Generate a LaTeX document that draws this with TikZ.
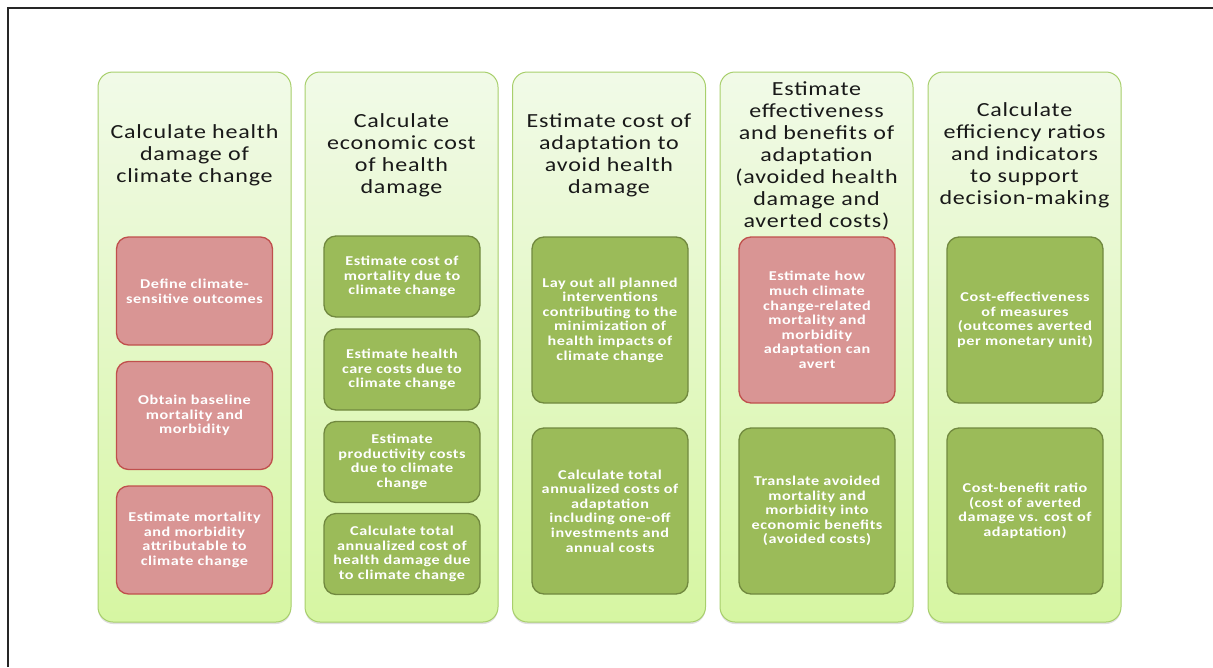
\documentclass[tikz,border=0pt]{standalone}
\usepackage{fontspec}
\setmainfont[FakeStretch=1.2, LetterSpace=4]{Carlito}
\usepackage{tikz}
\usetikzlibrary{shadows}
\definecolor{panelTop}{HTML}{F1FAE8}
\definecolor{panelBot}{HTML}{D6F6A2}
\definecolor{panelLine}{HTML}{A8CF6C}
\definecolor{redFill}{HTML}{D99594}
\definecolor{redLine}{HTML}{C0504D}
\definecolor{greenFill}{HTML}{9BBB59}
\definecolor{greenLine}{HTML}{71893F}
\tikzstyle{panel} = [draw=panelLine, line width=1pt,
	rounded corners=15pt,
	top color=panelTop, bottom color=panelBot,
	minimum width=193pt, minimum height=550pt,
	drop shadow={opacity=0.25, shadow xshift=0pt, shadow yshift=-2pt}]
\tikzstyle{title} = [align=center, text=black!90,
	font=\fontsize{20}{22}\selectfont]
\tikzstyle{inbox} = [line width=1.3pt, rounded corners=12pt,
	minimum width=156pt, align=center, text=white,
	font=\fontsize{13.5}{14.6}\selectfont\bfseries]
\tikzstyle{redbox} = [inbox, draw=redLine, fill=redFill]
\tikzstyle{greenbox} = [inbox, draw=greenLine, fill=greenFill]

\begin{document}
\begin{tikzpicture}[x=1pt, y=-1pt]
	\useasboundingbox (0,0) rectangle (1213,667);
	\draw [line width=2.5pt, black!85] (8,667) -- (8,8) -- (1213,8);
	
	% five stages
	\node (p1) [panel] at (194.5,347) {};
	\node (p2) [panel] at (401.5,347) {};
	\node (p3) [panel] at (609,347) {};
	\node (p4) [panel] at (816.5,347) {};
	\node (p5) [panel] at (1024.5,347) {};
	
	\node (t1) [title] at (194.5,155) {Calculate health\\damage of\\climate change};
	\node (t2) [title] at (401.5,155) {Calculate\\economic cost\\of health\\damage};
	\node (t3) [title] at (609,155) {Estimate cost of\\adaptation to\\avoid health\\damage};
	\node (t4) [title] at (816.5,155.5) {Estimate\\effectiveness\\and benefits of\\adaptation\\(avoided health\\damage and\\averted costs)};
	\node (t5) [title] at (1024.5,155) {Calculate\\efficiency ratios\\and indicators\\to support\\decision-making};
	
	% health damage
	\node (d1) [redbox, minimum height=108pt] at (194.5,291) {Define climate-\\sensitive outcomes};
	\node (d2) [redbox, minimum height=108pt] at (194.5,415.5) {Obtain baseline\\mortality and\\morbidity};
	\node (d3) [redbox, minimum height=108pt] at (194.5,540) {Estimate mortality\\and morbidity\\attributable to\\climate change};
	
	% economic cost
	\node (c1) [greenbox, minimum height=81pt] at (402,276.5) {Estimate cost of\\mortality due to\\climate change};
	\node (c2) [greenbox, minimum height=81pt] at (402,369.5) {Estimate health\\care costs due to\\climate change};
	\node (c3) [greenbox, minimum height=81pt] at (402,462) {Estimate\\productivity costs\\due to climate\\change};
	\node (c4) [greenbox, minimum height=81pt] at (402,554) {Calculate total\\annualized cost of\\health damage due\\to climate change};
	
	% adaptation cost
	\node (a1) [greenbox, minimum height=166pt] at (610,320) {Lay out all planned\\interventions\\contributing to the\\minimization of\\health impacts of\\climate change};
	\node (a2) [greenbox, minimum height=166pt] at (610,511) {Calculate total\\annualized costs of\\adaptation\\including one-off\\investments and\\annual costs};
	
	% benefits
	\node (b1) [redbox, minimum height=166pt] at (817,320) {Estimate how\\much climate\\change-related\\mortality and\\morbidity\\adaptation can\\avert};
	\node (b2) [greenbox, minimum height=166pt] at (817,511) {Translate avoided\\mortality and\\morbidity into\\economic benefits\\(avoided costs)};
	
	% ratios
	\node (r1) [greenbox, minimum height=166pt] at (1025,320) {Cost-effectiveness\\of measures\\(outcomes averted\\per monetary unit)};
	\node (r2) [greenbox, minimum height=166pt] at (1025,511) {Cost-benefit ratio\\(cost of averted\\damage vs. cost of\\adaptation)};
\end{tikzpicture}
\end{document}
